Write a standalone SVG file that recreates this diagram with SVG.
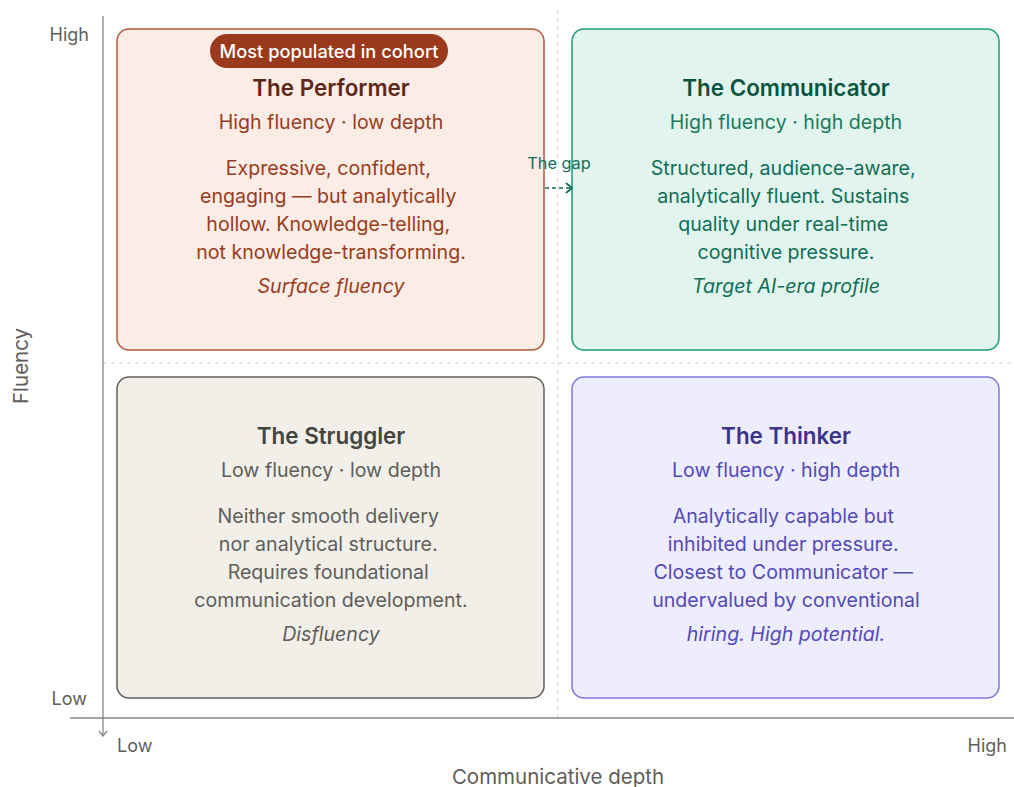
<svg xmlns="http://www.w3.org/2000/svg" width="1014" height="787" viewBox="0 0 1014 787">
  <style>
    text { font-family: Inter, "Noto Sans", "Liberation Sans", sans-serif; }
    .axis { fill: #5f5e5a; font-size: 18px; }
    .axisTitle { fill: #5f5e5a; font-size: 20.5px; text-anchor: middle; }
    .title { font-size: 22.4px; font-weight: 600; text-anchor: middle; }
    .sub { font-size: 19.6px; text-anchor: middle; }
    .body { font-size: 19.6px; text-anchor: middle; }
    .tag { font-size: 19.6px; font-style: italic; text-anchor: middle; }
    .card { stroke-width: 1.5; }
    .divider { stroke: #d3d1c7; stroke-width: 1; stroke-dasharray: 4 4; fill: none; }
  </style>
  <defs>
    <marker id="axisHead" viewBox="0 0 10 10" refX="9" refY="5" markerWidth="10" markerHeight="10" markerUnits="userSpaceOnUse" orient="auto">
      <path d="M4 1 L9 5 L4 9" fill="none" stroke="#888780" stroke-width="1.3"/>
    </marker>
    <marker id="gapHead" viewBox="0 0 12 12" refX="10" refY="6" markerWidth="12" markerHeight="12" markerUnits="userSpaceOnUse" orient="auto">
      <path d="M4 1 L10 6 L4 11" fill="none" stroke="#0f6e56" stroke-width="1.7"/>
    </marker>
  </defs>
  <rect width="1014" height="787" fill="#ffffff"/>

  <!-- quadrant dividers -->
  <g id="dividers">
    <line class="divider" x1="558" y1="10" x2="558" y2="718"/>
    <line class="divider" x1="103" y1="363" x2="1014" y2="363"/>
  </g>

  <!-- axes -->
  <g id="axes">
    <line x1="103" y1="16" x2="103" y2="736" stroke="#888780" stroke-width="1.3" marker-end="url(#axisHead)"/>
    <line x1="70" y1="718" x2="1014" y2="718" stroke="#888780" stroke-width="1.3"/>
    <text class="axis" x="89" y="41" text-anchor="end">High</text>
    <text class="axis" x="87" y="705" text-anchor="end">Low</text>
    <text class="axis" x="117" y="752">Low</text>
    <text class="axis" x="1007" y="752" text-anchor="end">High</text>
    <text class="axisTitle" x="558" y="784">Communicative depth</text>
    <text class="axisTitle" x="0" y="0" transform="translate(28 366) rotate(-90)">Fluency</text>
  </g>

  <!-- Performer: high fluency, low depth -->
  <g id="performer">
    <rect class="card" x="117" y="29" width="427" height="321" rx="12" fill="#fbece6" stroke="#b3593c"/>
    <rect x="210" y="34" width="238" height="34" rx="17" fill="#9a3a1c"/>
    <text x="329" y="57.5" text-anchor="middle" font-size="18.3" font-weight="500" fill="#ffffff">Most populated in cohort</text>
    <text class="title" x="331" y="96" fill="#5e2818">The Performer</text>
    <text class="sub" x="331" y="129" fill="#993c1d">High fluency · low depth</text>
    <text class="body" fill="#993c1d">
      <tspan x="331" y="175">Expressive, confident,</tspan>
      <tspan x="331" y="203">engaging — but analytically</tspan>
      <tspan x="331" y="231">hollow. Knowledge-telling,</tspan>
      <tspan x="331" y="259">not knowledge-transforming.</tspan>
    </text>
    <text class="tag" x="331" y="293" fill="#993c1d">Surface fluency</text>
  </g>

  <!-- Communicator: high fluency, high depth -->
  <g id="communicator">
    <rect class="card" x="572" y="29" width="427" height="321" rx="12" fill="#e1f5ee" stroke="#1d9e75"/>
    <text class="title" x="786" y="96" fill="#0b5440">The Communicator</text>
    <text class="sub" x="786" y="129" fill="#1a7a5e">High fluency · high depth</text>
    <text class="body" fill="#0f6e56">
      <tspan x="786" y="175">Structured, audience-aware,</tspan>
      <tspan x="786" y="203">analytically fluent. Sustains</tspan>
      <tspan x="786" y="231">quality under real-time</tspan>
      <tspan x="786" y="259">cognitive pressure.</tspan>
    </text>
    <text class="tag" x="786" y="293" fill="#0f6e56">Target AI-era profile</text>
  </g>

  <!-- Struggler: low fluency, low depth -->
  <g id="struggler">
    <rect class="card" x="117" y="377" width="427" height="321" rx="12" fill="#f1efe8" stroke="#5f5e5a"/>
    <text class="title" x="331" y="444" fill="#444441">The Struggler</text>
    <text class="sub" x="331" y="477" fill="#5f5e5a">Low fluency · low depth</text>
    <text class="body" fill="#5f5e5a">
      <tspan x="331" y="523">Neither smooth delivery</tspan>
      <tspan x="331" y="551">nor analytical structure.</tspan>
      <tspan x="331" y="579">Requires foundational</tspan>
      <tspan x="331" y="607">communication development.</tspan>
    </text>
    <text class="tag" x="331" y="641" fill="#5f5e5a">Disfluency</text>
  </g>

  <!-- Thinker: low fluency, high depth -->
  <g id="thinker">
    <rect class="card" x="572" y="377" width="427" height="321" rx="12" fill="#eeedfe" stroke="#7f77dd"/>
    <text class="title" x="786" y="444" fill="#3c3489">The Thinker</text>
    <text class="sub" x="786" y="477" fill="#534ab7">Low fluency · high depth</text>
    <text class="body" fill="#534ab7">
      <tspan x="786" y="523">Analytically capable but</tspan>
      <tspan x="786" y="551">inhibited under pressure.</tspan>
      <tspan x="786" y="579">Closest to Communicator —</tspan>
      <tspan x="786" y="607">undervalued by conventional</tspan>
    </text>
    <text class="tag" x="786" y="641" fill="#534ab7">hiring. High potential.</text>
  </g>

  <!-- connectors -->
  <g id="connectors">
    <text x="559" y="169" text-anchor="middle" font-size="16.3" fill="#0f6e56">The gap</text>
    <line x1="545" y1="188" x2="572" y2="188" stroke="#0f6e56" stroke-width="1.7" stroke-dasharray="4 3" marker-end="url(#gapHead)"/>
  </g>
</svg>
